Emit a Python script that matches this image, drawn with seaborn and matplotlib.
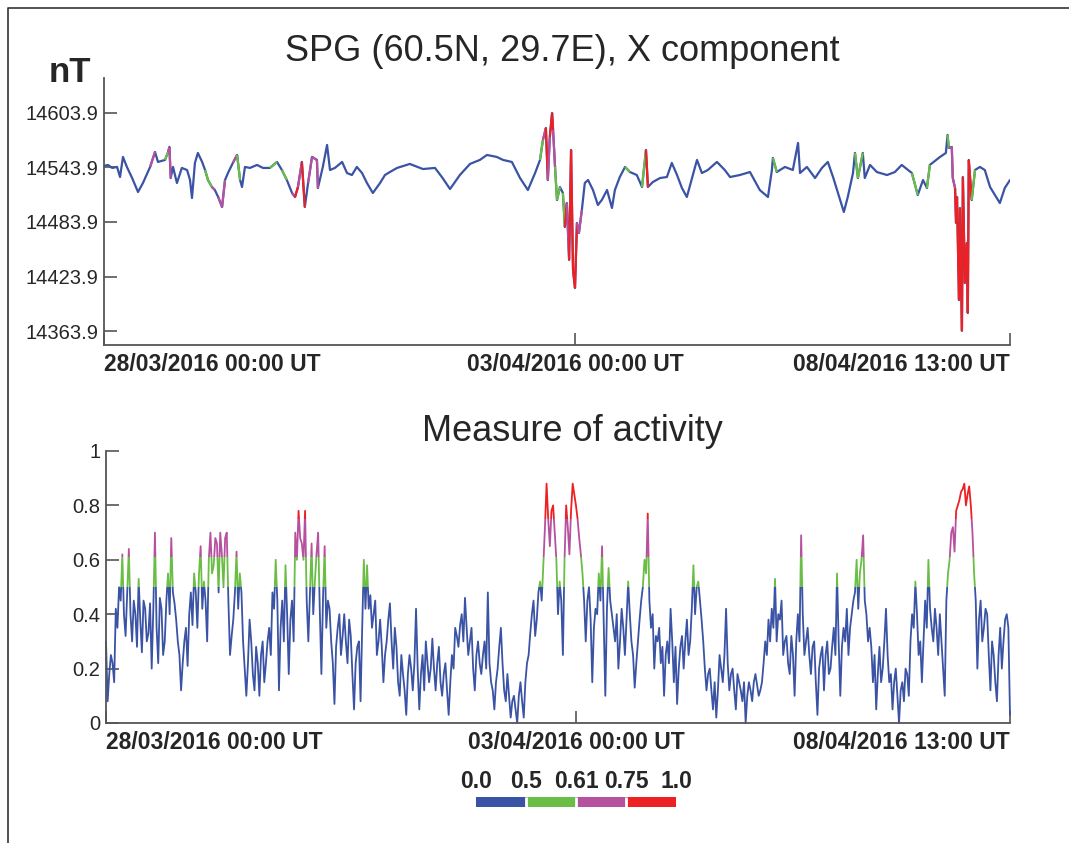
import numpy as np
import matplotlib
matplotlib.use("Agg")
import matplotlib.pyplot as plt
import seaborn as sns
from matplotlib.collections import LineCollection
from matplotlib.patches import Rectangle
from matplotlib.colors import ListedColormap, BoundaryNorm
from matplotlib.lines import Line2D

sns.set_style("ticks")
plt.rcParams["font.family"] = ["Liberation Sans", "DejaVu Sans"]

# X component at SPG, hours since 28/03/2016 00:00 UT
x_hours = [
    0.0, 1.2, 2.5, 4.0, 4.9, 5.8, 7.0, 8.6, 10.4, 11.9, 14.1, 15.6, 16.5, 18.65,
    19.6, 20.0, 20.4, 21.1, 22.3, 23.8, 25.4, 26.3, 26.9, 27.8, 28.7, 30.0, 30.9,
    31.8, 33.0, 33.9, 34.9, 36.1, 37.0, 37.9, 39.4, 40.7, 41.6, 42.2, 43.1, 44.6,
    46.8, 48.6, 50.7, 52.9, 54.4, 55.9, 57.5, 58.4, 59.3, 60.5, 61.4, 62.4, 63.6,
    65.1, 65.4, 66.9, 68.2, 69.1, 70.6, 72.8, 74.3, 75.8, 77.3, 78.9, 80.4, 82.2,
    84.4, 85.9, 87.4, 89.6, 93.5, 97.5, 101.2, 103.3, 105.8, 108.8, 111.9, 114.9,
    117.1, 120.1, 122.0, 124.7, 127.2, 129.6, 131.8, 133.3, 134.2, 135.1, 135.7,
    136.3, 137.0, 137.3, 137.9, 138.5, 139.4, 140.3, 140.9, 141.5, 142.2, 142.8,
    143.4, 144.0, 144.6, 145.2, 146.1, 147.0, 148.0, 149.5, 151.0, 152.2, 153.8,
    155.3, 156.2, 157.7, 159.3, 160.8, 162.9, 164.5, 165.7, 166.3, 167.8, 170.0,
    172.1, 173.6, 175.2, 176.7, 178.2, 179.8, 181.3, 182.8, 184.6, 187.4, 189.8,
    191.4, 194.4, 197.5, 200.5, 203.0, 204.2, 204.5, 205.7, 208.2, 210.6, 212.2,
    212.8, 214.9, 217.4, 219.5, 221.3, 222.9, 224.4, 226.2, 227.4, 229.0, 229.6,
    230.5, 232.0, 232.6, 234.2, 236.3, 239.4, 241.8, 243.9, 247.0, 248.8, 250.4,
    251.6, 252.5, 255.6, 257.4, 257.9, 258.3, 259.2, 259.5, 260.2, 260.5, 260.8,
    261.4, 261.7, 262.3, 262.6, 263.2, 263.8, 264.1, 264.4, 265.3, 266.3, 267.8,
    269.3, 270.9, 272.4, 273.9, 275.4, 277.0,
]
x_nt = [
    14545.6, 14546.7, 14543.4, 14544.5, 14533.4, 14555.5, 14544.5, 14532.3, 14516.9,
    14526.8, 14544.5, 14561.0, 14550.0, 14552.2, 14561.0, 14566.5, 14532.3, 14544.5,
    14526.8, 14543.4, 14541.1, 14530.1, 14510.3, 14548.9, 14559.9, 14550.0, 14541.1,
    14530.1, 14522.4, 14519.1, 14511.4, 14500.4, 14530.1, 14537.8, 14548.9, 14557.7,
    14530.1, 14522.4, 14544.5, 14543.4, 14546.7, 14543.4, 14543.4, 14550.0, 14541.1,
    14530.1, 14515.8, 14511.4, 14522.4, 14550.0, 14500.4, 14526.8, 14555.5, 14552.2,
    14521.3, 14544.5, 14568.7, 14541.1, 14543.4, 14550.0, 14537.8, 14535.6, 14544.5,
    14537.8, 14526.8, 14515.8, 14526.8, 14535.6, 14538.9, 14543.4, 14547.8, 14542.2,
    14543.4, 14533.4, 14520.2, 14535.6, 14547.8, 14552.2, 14557.7, 14555.5, 14552.2,
    14550.0, 14532.3, 14519.1, 14537.8, 14552.2, 14574.2, 14587.4, 14530.1, 14577.5,
    14603.9, 14585.2, 14544.5, 14508.1, 14522.4, 14515.8, 14478.4, 14504.8, 14442.1,
    14563.2, 14431.1, 14411.2, 14482.8, 14471.8, 14497.1, 14526.8, 14530.1, 14519.1,
    14502.6, 14508.1, 14519.1, 14499.3, 14519.1, 14533.4, 14544.5, 14538.9, 14535.6,
    14522.4, 14563.2, 14522.4, 14527.9, 14532.3, 14533.4, 14548.9, 14535.6, 14521.3,
    14511.4, 14532.3, 14552.2, 14537.8, 14541.1, 14550.0, 14541.1, 14533.4, 14535.6,
    14538.9, 14519.1, 14511.4, 14541.1, 14554.4, 14538.9, 14544.5, 14541.1, 14570.9,
    14537.8, 14544.5, 14532.3, 14543.4, 14550.0, 14533.4, 14515.8, 14494.9, 14511.4,
    14537.8, 14559.9, 14532.3, 14559.9, 14532.3, 14546.7, 14538.9, 14535.6, 14538.9,
    14546.7, 14537.8, 14513.6, 14530.1, 14521.3, 14546.7, 14555.5, 14559.9, 14579.7,
    14565.4, 14566.5, 14532.3, 14521.3, 14482.8, 14511.4, 14398.0, 14499.3, 14364.0,
    14533.4, 14416.7, 14460.8, 14383.7, 14552.2, 14508.1, 14541.1, 14544.5, 14541.1,
    14522.4, 14513.6, 14504.8, 14521.3, 14530.1,
]

# Half-hourly measure of activity, same time origin (one row = 10 hours)
activity = [
    0.30, 0.08, 0.18, 0.25, 0.22, 0.15, 0.42, 0.35, 0.50, 0.45, 0.62, 0.40, 0.32, 0.48, 0.64, 0.40, 0.30, 0.45, 0.40, 0.28,
    0.53, 0.38, 0.26, 0.45, 0.42, 0.30, 0.33, 0.44, 0.20, 0.42, 0.70, 0.35, 0.22, 0.46, 0.42, 0.25, 0.30, 0.45, 0.55, 0.40,
    0.68, 0.48, 0.44, 0.38, 0.30, 0.25, 0.12, 0.22, 0.30, 0.35, 0.21, 0.40, 0.48, 0.36, 0.55, 0.48, 0.35, 0.55, 0.65, 0.42,
    0.52, 0.45, 0.30, 0.60, 0.70, 0.55, 0.58, 0.68, 0.66, 0.48, 0.70, 0.62, 0.50, 0.68, 0.70, 0.45, 0.25, 0.32, 0.38, 0.48,
    0.63, 0.42, 0.55, 0.48, 0.30, 0.20, 0.10, 0.22, 0.38, 0.30, 0.18, 0.12, 0.28, 0.22, 0.10, 0.25, 0.30, 0.15, 0.22, 0.30,
    0.35, 0.25, 0.48, 0.42, 0.60, 0.45, 0.12, 0.35, 0.45, 0.30, 0.58, 0.40, 0.18, 0.38, 0.45, 0.30, 0.70, 0.60, 0.78, 0.68,
    0.66, 0.60, 0.78, 0.45, 0.30, 0.48, 0.66, 0.40, 0.52, 0.62, 0.70, 0.42, 0.18, 0.46, 0.65, 0.35, 0.45, 0.42, 0.30, 0.22,
    0.07, 0.28, 0.35, 0.40, 0.25, 0.32, 0.40, 0.30, 0.22, 0.38, 0.32, 0.18, 0.05, 0.22, 0.28, 0.30, 0.08, 0.35, 0.60, 0.42,
    0.58, 0.42, 0.47, 0.35, 0.40, 0.45, 0.25, 0.30, 0.38, 0.28, 0.15, 0.25, 0.30, 0.38, 0.44, 0.30, 0.20, 0.35, 0.28, 0.15,
    0.10, 0.25, 0.18, 0.12, 0.03, 0.18, 0.25, 0.20, 0.12, 0.22, 0.42, 0.20, 0.05, 0.18, 0.25, 0.12, 0.30, 0.22, 0.15, 0.20,
    0.31, 0.20, 0.12, 0.22, 0.28, 0.15, 0.10, 0.18, 0.22, 0.12, 0.03, 0.15, 0.25, 0.20, 0.35, 0.32, 0.28, 0.36, 0.40, 0.30,
    0.46, 0.35, 0.25, 0.30, 0.35, 0.20, 0.12, 0.25, 0.30, 0.22, 0.18, 0.25, 0.30, 0.20, 0.48, 0.22, 0.15, 0.12, 0.05, 0.15,
    0.20, 0.28, 0.35, 0.22, 0.12, 0.08, 0.18, 0.10, 0.02, 0.08, 0.10, 0.05, 0.00, 0.10, 0.15, 0.08, 0.02, 0.15, 0.22, 0.25,
    0.33, 0.40, 0.45, 0.32, 0.38, 0.48, 0.52, 0.45, 0.58, 0.72, 0.88, 0.75, 0.65, 0.78, 0.80, 0.70, 0.60, 0.40, 0.52, 0.45,
    0.25, 0.60, 0.80, 0.72, 0.62, 0.78, 0.88, 0.84, 0.80, 0.75, 0.68, 0.62, 0.55, 0.45, 0.30, 0.45, 0.50, 0.38, 0.15, 0.35,
    0.42, 0.40, 0.55, 0.45, 0.65, 0.38, 0.10, 0.42, 0.57, 0.45, 0.40, 0.35, 0.30, 0.40, 0.20, 0.30, 0.42, 0.35, 0.25, 0.38,
    0.52, 0.40, 0.30, 0.25, 0.13, 0.22, 0.30, 0.38, 0.45, 0.50, 0.60, 0.55, 0.77, 0.45, 0.35, 0.40, 0.20, 0.32, 0.30, 0.35,
    0.22, 0.28, 0.10, 0.25, 0.30, 0.22, 0.42, 0.30, 0.15, 0.28, 0.07, 0.20, 0.28, 0.32, 0.20, 0.30, 0.38, 0.25, 0.30, 0.42,
    0.58, 0.40, 0.50, 0.52, 0.45, 0.38, 0.30, 0.20, 0.12, 0.18, 0.20, 0.12, 0.05, 0.15, 0.02, 0.12, 0.25, 0.20, 0.15, 0.25,
    0.42, 0.22, 0.12, 0.18, 0.20, 0.12, 0.05, 0.18, 0.15, 0.12, 0.08, 0.15, 0.00, 0.10, 0.15, 0.12, 0.08, 0.15, 0.18, 0.14,
    0.10, 0.12, 0.15, 0.22, 0.30, 0.25, 0.38, 0.30, 0.42, 0.35, 0.53, 0.30, 0.40, 0.38, 0.45, 0.25, 0.30, 0.32, 0.22, 0.18,
    0.32, 0.25, 0.10, 0.30, 0.40, 0.30, 0.69, 0.40, 0.25, 0.30, 0.35, 0.25, 0.18, 0.28, 0.30, 0.15, 0.03, 0.20, 0.25, 0.28,
    0.12, 0.25, 0.30, 0.18, 0.20, 0.28, 0.35, 0.25, 0.55, 0.30, 0.10, 0.28, 0.35, 0.30, 0.42, 0.25, 0.35, 0.40, 0.45, 0.48,
    0.60, 0.42, 0.55, 0.60, 0.69, 0.45, 0.40, 0.30, 0.35, 0.28, 0.15, 0.25, 0.05, 0.18, 0.28, 0.15, 0.20, 0.30, 0.42, 0.25,
    0.15, 0.18, 0.05, 0.15, 0.20, 0.10, 0.00, 0.12, 0.15, 0.08, 0.20, 0.18, 0.10, 0.30, 0.40, 0.35, 0.52, 0.40, 0.25, 0.30,
    0.15, 0.30, 0.45, 0.35, 0.60, 0.42, 0.35, 0.30, 0.42, 0.35, 0.25, 0.40, 0.30, 0.20, 0.10, 0.45, 0.55, 0.60, 0.70, 0.72,
    0.63, 0.78, 0.80, 0.82, 0.85, 0.86, 0.88, 0.80, 0.84, 0.87, 0.80, 0.70, 0.55, 0.45, 0.20, 0.38, 0.45, 0.30, 0.35, 0.42,
    0.40, 0.25, 0.12, 0.30, 0.25, 0.15, 0.08, 0.25, 0.35, 0.20, 0.30, 0.38, 0.40, 0.35, 0.03,
]
act_step = 0.5  # hours between activity samples
act_hours = [i * act_step for i in range(len(activity))]

level_bounds = [0.0, 0.5, 0.61, 0.75, 1.0]
level_labels = ["0.0", "0.5", "0.61", "0.75", "1.0"]
level_colors = ["#3a53a4", "#6abd45", "#b6519f", "#ed2124"]

time_ticks = [0, 144, 277]
time_labels = ["28/03/2016 00:00 UT", "03/04/2016 00:00 UT", "08/04/2016 13:00 UT"]
x_yticks = [14363.9, 14423.9, 14483.9, 14543.9, 14603.9]
act_yticks = [0, 0.2, 0.4, 0.6, 0.8, 1.0]
act_ytick_labels = ["0", "0.2", "0.4", "0.6", "0.8", "1"]

W, H = 1069, 843
fig = plt.figure(figsize=(W / 100, H / 100), dpi=100)


def box(left, top, right, bottom):
    """Pixel box (from top-left) to figure-fraction rect."""
    return [left / W, 1 - bottom / H, (right - left) / W, (bottom - top) / H]


axis_grey = "#555555"


def style_axes(ax):
    for s in ("top", "right"):
        ax.spines[s].set_visible(False)
    for s in ("left", "bottom"):
        ax.spines[s].set_color(axis_grey)
        ax.spines[s].set_linewidth(1.3)
    ax.tick_params(direction="in", length=9, width=1.2, color=axis_grey)
    ax.tick_params(axis="y", labelsize=14.5, pad=4)
    ax.tick_params(axis="x", labelsize=16.5, pad=6)
    ax.set_xlim(0, 277)
    ax.set_xticks(time_ticks)
    ax.set_xticklabels(time_labels, fontweight="bold")
    labels = ax.get_xticklabels()
    labels[0].set_horizontalalignment("left")
    labels[-1].set_horizontalalignment("right")
    ax.set_xlabel("")
    ax.set_ylabel("")


# ---- top panel: X component coloured by activity level ----
ax1 = fig.add_axes(box(104, 78, 1010, 345))
sns.lineplot(x=x_hours, y=x_nt, ax=ax1, color=level_colors[0], lw=1.6,
             estimator=None, sort=False)
xh = np.asarray(x_hours)
xv = np.asarray(x_nt)
act = np.asarray(activity)
mid = (xh[:-1] + xh[1:]) / 2
idx = np.clip(np.rint(mid / act_step).astype(int), 0, len(act) - 1)
level = np.digitize(act[idx], level_bounds[1:-1])
segs = np.stack([np.column_stack([xh[:-1], xv[:-1]]),
                 np.column_stack([xh[1:], xv[1:]])], axis=1)
hot = level > 0
ax1.add_collection(LineCollection(segs[hot], colors=[level_colors[k] for k in level[hot]],
                                  linewidths=1.6))
ax1.set_ylim(14348.5, 14642.4)
ax1.set_yticks(x_yticks)
ax1.set_yticklabels([f"{v:.1f}" for v in x_yticks])
style_axes(ax1)

# ---- bottom panel: activity, one copy per level band ----
ax2 = fig.add_axes(box(106, 451, 1010, 723))
for k, color in enumerate(level_colors):
    sns.lineplot(x=act_hours, y=activity, ax=ax2, color=color, lw=1.3, estimator=None)
    line = ax2.lines[-1]
    lo = level_bounds[k] if k > 0 else -1.0
    hi = level_bounds[k + 1] if k < len(level_colors) - 1 else 2.0
    line.set_clip_path(Rectangle((-10, lo), 300, hi - lo, transform=ax2.transData))
ax2.set_ylim(0, 1)
ax2.set_yticks(act_yticks)
ax2.set_yticklabels(act_ytick_labels)
style_axes(ax2)

# ---- level key ----
cax = fig.add_axes(box(476, 797, 676, 807))
cmap = ListedColormap(level_colors)
norm = BoundaryNorm(level_bounds, cmap.N)
cb = fig.colorbar(plt.cm.ScalarMappable(norm=norm, cmap=cmap), cax=cax,
                  orientation="horizontal", spacing="uniform", drawedges=True)
cb.outline.set_visible(False)
cb.dividers.set_color("white")
cb.dividers.set_linewidth(2)
cax.xaxis.set_ticks_position("top")
cb.set_ticks(level_bounds)
cb.set_ticklabels(level_labels)
cax.tick_params(length=0, pad=3, labelsize=16.5)
for t in cax.get_xticklabels():
    t.set_fontweight("bold")

# ---- titles and unit ----
fig.text(562 / W, 1 - 61 / H, "SPG (60.5N, 29.7E), X component",
         ha="center", va="baseline", fontsize=26)
fig.text(572 / W, 1 - 441 / H, "Measure of activity",
         ha="center", va="baseline", fontsize=26)
fig.text(70 / W, 1 - 82 / H, "nT", ha="center", va="baseline",
         fontsize=25, fontweight="bold")

# page frame
fig.add_artist(Line2D([8 / W, 8 / W, 1.0], [0.0, 1 - 8 / H, 1 - 8 / H],
                      transform=fig.transFigure, color="#333333", lw=1.2))

fig.savefig("out.png", dpi=100, facecolor="white")
